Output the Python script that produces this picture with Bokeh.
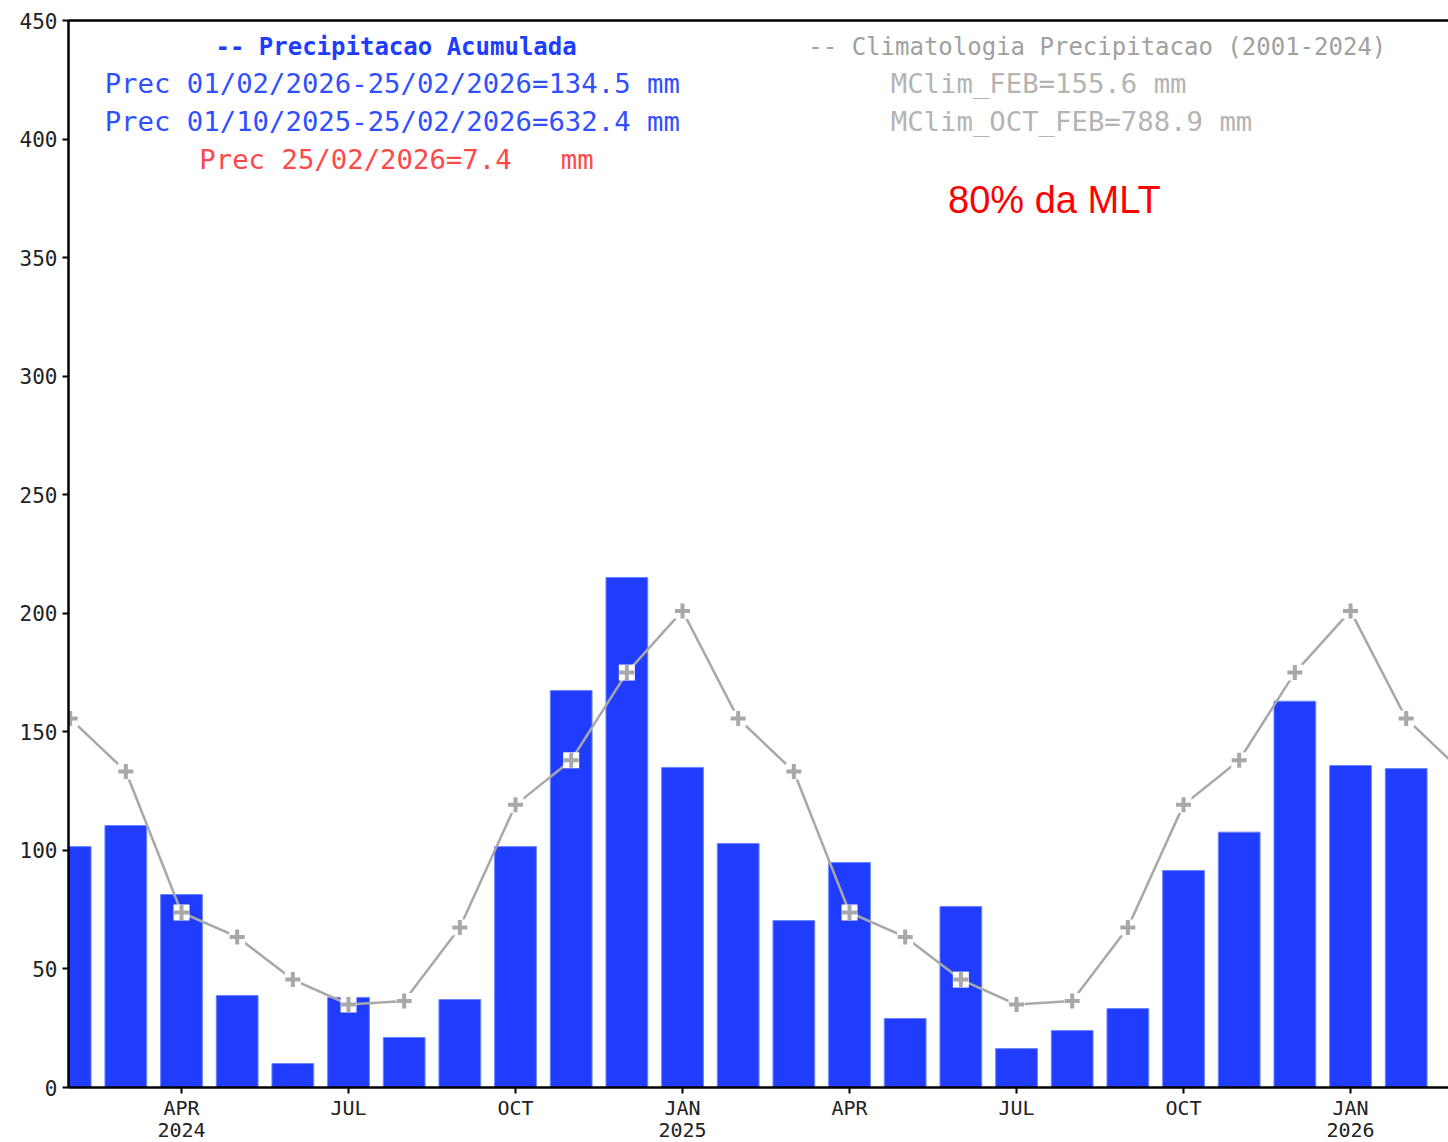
from bokeh.plotting import figure
from bokeh.models import Range1d, FixedTicker, LinearAxis, Label
from bokeh.embed import file_html
from bokeh.resources import INLINE

# ---------------- data ----------------
# month index 0 = FEB 2024
months = list(range(25))
precip = [101.6, 110.5, 81.4, 38.8, 10.1, 38.0, 21.1, 37.1, 101.6, 167.4, 215.1, 135.0,
          102.9, 70.4, 94.9, 29.1, 76.3, 16.4, 24.0, 33.3, 91.5, 107.7, 162.9, 135.8, 134.5]
clim_x = list(range(26))
clim = [155.6, 133.3, 73.8, 63.5, 45.5, 35.0, 36.5, 67.5, 119.2, 138.0, 175.0, 201.0,
        155.6, 133.3, 73.8, 63.5, 45.5, 35.0, 36.5, 67.5, 119.2, 138.0, 175.0, 201.0,
        155.6, 133.3]
x_ticks = [2, 5, 8, 11, 14, 17, 20, 23]
x_tick_labels = ["APR", "JUL", "OCT", "JAN", "APR", "JUL", "OCT", "JAN"]
year_ticks = [2, 11, 23]
year_labels = ["2024", "2025", "2026"]
y_ticks = [0, 50, 100, 150, 200, 250, 300, 350, 400, 450]

BLUE = "#203cff"
GRAY = "#a8a8a8"
MONO = "DejaVu Sans Mono"
NB = "\u00a0"

p = figure(width=1448, height=1142, output_backend="svg", toolbar_location=None,
           x_range=Range1d(-0.03, 24.76), y_range=Range1d(0, 450),
           min_border_left=68, min_border_right=0, min_border_top=20, min_border_bottom=55,
           background_fill_color="white", border_fill_color="white")
p.outline_line_color = None
p.grid.visible = False

p.vbar(x=months, top=precip, width=0.75, fill_color=BLUE, line_color="#6a86ff", line_width=1)
p.line(clim_x, clim, line_color=GRAY, line_width=2.5)
p.scatter(clim_x, clim, marker="square", size=16, fill_color="white", line_color=None)
p.scatter(clim_x, clim, marker="cross", size=15, line_color=GRAY, line_width=4)

for ax in (p.xaxis[0], p.yaxis[0]):
    ax.axis_line_width = 2.5
    ax.axis_line_color = "black"
    ax.major_tick_line_width = 2
    ax.major_tick_in = 0
    ax.major_tick_out = 6
    ax.minor_tick_line_color = None
    ax.major_label_text_font = MONO
    ax.major_label_text_font_size = "21px"
    ax.major_label_text_color = "#222222"

p.xaxis.ticker = FixedTicker(ticks=x_ticks)
p.xaxis.major_label_overrides = {t: l for t, l in zip(x_ticks, x_tick_labels)}
p.xaxis.major_label_standoff = 2
p.xaxis.major_label_text_font_size = "20px"
p.yaxis.ticker = FixedTicker(ticks=y_ticks)
p.yaxis.major_label_standoff = 5

years = LinearAxis(ticker=FixedTicker(ticks=year_ticks),
                   major_label_overrides={t: l for t, l in zip(year_ticks, year_labels)},
                   axis_line_color=None, major_tick_line_color=None, minor_tick_line_color=None,
                   major_tick_in=0, major_tick_out=0, major_label_standoff=0,
                   major_label_text_font=MONO, major_label_text_font_size="20px",
                   major_label_text_color="#222222")
p.add_layout(years, "below")

top = LinearAxis(ticker=FixedTicker(ticks=[]), axis_line_width=2.5, axis_line_color="black",
                 major_tick_line_color=None, minor_tick_line_color=None,
                 major_label_text_font_size="0px")
p.add_layout(top, "above")

def lab(x, y, text, color, size, style="normal", font=MONO):
    p.add_layout(Label(x=x, y=y, text=text, text_color=color, text_font=font,
                       text_font_size=size, text_font_style=style,
                       text_baseline="middle", text_align="left"))

lab(2.61, 439.0, "--" + NB + "Precipitacao" + NB + "Acumulada", BLUE, "24px", "bold")
lab(0.62, 423.4, "Prec 01/02/2026-25/02/2026=134.5" + NB + "mm", "#3050ff", "27.3px")
lab(0.62, 407.4, "Prec 01/10/2025-25/02/2026=632.4" + NB + "mm", "#3050ff", "27.3px")
lab(2.32, 391.4, "Prec 25/02/2026=7.4" + NB * 3 + "mm", "#ff4848", "27.3px")
lab(13.26, 439.0, "--" + NB + "Climatologia Precipitacao (2001-2024)", "#a0a0a0", "24px")
lab(14.74, 423.4, "MClim_FEB=155.6" + NB + "mm", "#b4b4b4", "27.3px")
lab(14.74, 407.4, "MClim_OCT_FEB=788.9" + NB + "mm", "#b4b4b4", "27.3px")
lab(15.77, 374.1, "80% da MLT", "#ff0000", "38px", font="Liberation Sans")

open("out.html", "w").write(file_html(p, INLINE))
